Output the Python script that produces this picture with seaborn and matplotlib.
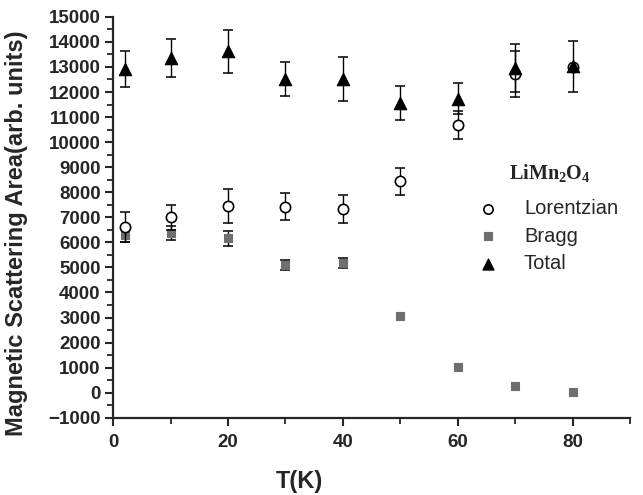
import matplotlib
matplotlib.use("Agg")
import matplotlib.pyplot as plt
from matplotlib.ticker import MultipleLocator
import seaborn as sns
import pandas as pd

# Temperatures (K)
temperature = [2, 10, 20, 30, 40, 50, 60, 70, 80]

# Integrated magnetic scattering areas (arb. units) with uncertainties
lorentzian = [6600, 7000, 7450, 7430, 7340, 8430, 10690, 12730, 13000]
lorentzian_err = [600, 500, 670, 530, 570, 550, 560, 920, 0]
bragg = [6300, 6370, 6170, 5100, 5170, 3080, 1020, 280, 10]
bragg_err = [300, 280, 300, 200, 200, 0, 0, 0, 0]
total = [12900, 13350, 13620, 12530, 12530, 11560, 11730, 12950, 13020]
total_err = [720, 750, 850, 680, 880, 670, 625, 950, 1000]

series_names = ["Lorentzian", "Bragg", "Total"]

sns.set_style("ticks")
plt.rcParams["font.family"] = ["Liberation Sans", "DejaVu Sans"]
plt.rcParams["mathtext.fontset"] = "custom"
plt.rcParams["mathtext.rm"] = "Liberation Serif:bold"
plt.rcParams["mathtext.it"] = "Liberation Serif:bold"
plt.rcParams["mathtext.bf"] = "Liberation Serif:bold"

fig = plt.figure(figsize=(6.43, 4.95), dpi=100)
ax = fig.add_axes([0.176, 0.156, 0.804, 0.810])

frames = []
for name, vals, errs in zip(series_names,
                            [lorentzian, bragg, total],
                            [lorentzian_err, bragg_err, total_err]):
    frames.append(pd.DataFrame({"T": temperature, "area": vals,
                                "err": errs, "series": name}))
df = pd.concat(frames, ignore_index=True)

styles = {
    "Bragg": dict(marker="s", s=40, color="#6e6e6e", edgecolor="#6e6e6e", lw=0.8, z=3),
    "Lorentzian": dict(marker="o", s=55, color="white", edgecolor="black", lw=1.2, z=4),
    "Total": dict(marker="^", s=80, color="black", edgecolor="black", lw=0.8, z=5),
}

handles = {}
for name in ["Bragg", "Lorentzian", "Total"]:
    sub = df[df["series"] == name]
    st = styles[name]
    has_err = sub["err"] > 0
    ax.errorbar(sub["T"][has_err], sub["area"][has_err], yerr=sub["err"][has_err],
                fmt="none", ecolor="black", elinewidth=1.0, capsize=3.6,
                capthick=1.1, zorder=st["z"] - 0.5)
    sns.scatterplot(x=sub["T"], y=sub["area"], marker=st["marker"], s=st["s"],
                    color=st["color"], edgecolor=st["edgecolor"], linewidth=st["lw"],
                    zorder=st["z"], ax=ax, label=name, legend=False)
    handles[name] = ax.collections[-1]

ax.set_xlim(0, 90)
ax.set_ylim(-1000, 15000)
ax.xaxis.set_major_locator(MultipleLocator(20))
ax.xaxis.set_minor_locator(MultipleLocator(10))
ax.yaxis.set_major_locator(MultipleLocator(1000))
ax.yaxis.set_minor_locator(MultipleLocator(500))
ax.tick_params(axis="both", which="major", direction="out", length=6,
               width=1.5, labelsize=13.5, pad=3)
ax.tick_params(axis="x", which="major", pad=6)
ax.tick_params(axis="both", which="minor", direction="out", length=4, width=1.3)
for lbl in ax.get_xticklabels() + ax.get_yticklabels():
    lbl.set_fontweight("bold")

sns.despine(ax=ax)
for sp in ["left", "bottom"]:
    ax.spines[sp].set_linewidth(1.6)

ax.set_xlabel("T(K)", fontsize=17, fontweight="bold")
ax.xaxis.set_label_coords(0.36, -0.13)
ax.set_ylabel("Magnetic Scattering Area(arb. units)", fontsize=17,
              fontweight="bold")
ax.yaxis.set_label_coords(-0.165, 0.46)

# Sample name above the legend entries
ax.text(0.845, 0.611, r"$\mathrm{LiMn_2O_4}$", fontsize=14.5,
        ha="center", va="center", transform=ax.transAxes)

ax.legend([handles[n] for n in series_names], series_names,
          loc="upper left", bbox_to_anchor=(0.67, 0.565), frameon=False,
          fontsize=14.5, handletextpad=0.8, labelspacing=0.42,
          markerscale=0.9, borderaxespad=0)

fig.savefig("out.png", dpi=100)
